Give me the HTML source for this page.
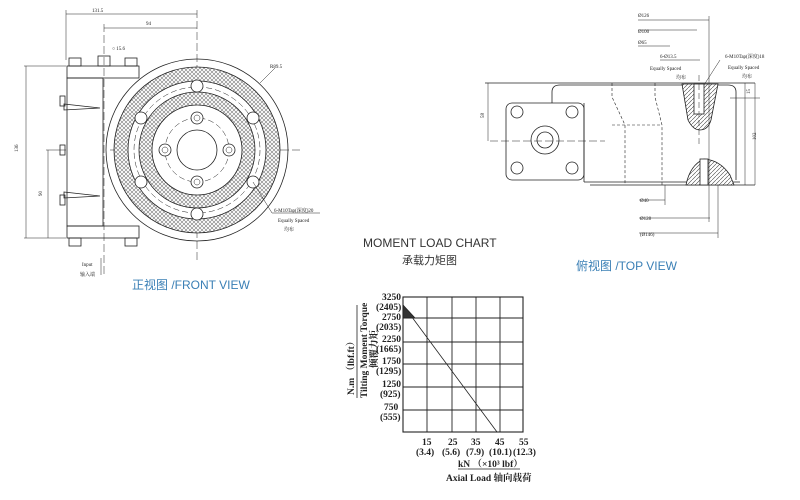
<!DOCTYPE html>
<html><head><meta charset="utf-8"><style>
html,body{margin:0;padding:0;background:#fff;width:800px;height:500px;overflow:hidden}
svg{display:block}
text{font-family:"Liberation Serif","Noto Serif CJK SC",serif;fill:#222}
.s{font-family:"Liberation Sans","Noto Sans CJK SC",sans-serif}
</style></head><body>
<svg width="800" height="500" viewBox="0 0 800 500" xmlns="http://www.w3.org/2000/svg">
<defs>
<pattern id="x" width="4" height="4" patternUnits="userSpaceOnUse">
<rect width="4" height="4" fill="#fff"/>
<path d="M0 0L4 4M4 0L0 4" stroke="#777" stroke-width="0.6"/>
</pattern>
<pattern id="d" width="4" height="4" patternUnits="userSpaceOnUse">
<rect width="4" height="4" fill="#fff"/><path d="M0 4L4 0" stroke="#444" stroke-width="0.6"/>
</pattern>
</defs>
<g stroke="#222" fill="none" stroke-width="0.8">
<!-- FRONT VIEW -->
<line x1="66" y1="14" x2="197" y2="14" stroke-width="0.5"/>
<line x1="104" y1="28" x2="197" y2="28" stroke-width="0.5"/>
<line x1="66" y1="10" x2="66" y2="60" stroke-width="0.5"/>
<line x1="197" y1="10" x2="197" y2="262" stroke-width="0.5" stroke-dasharray="8 3"/>
<line x1="104" y1="24" x2="104" y2="275" stroke-width="0.5" stroke-dasharray="8 3"/>
<line x1="110" y1="150" x2="300" y2="150" stroke-width="0.5" stroke-dasharray="10 3"/>
<line x1="24" y1="66" x2="66" y2="66" stroke-width="0.5"/>
<line x1="24" y1="238" x2="66" y2="238" stroke-width="0.5"/>
<line x1="26" y1="66" x2="26" y2="238" stroke-width="0.5"/>
<line x1="46" y1="150" x2="66" y2="150" stroke-width="0.5"/>
<line x1="48" y1="150" x2="48" y2="238" stroke-width="0.5"/>
<rect x="67" y="66" width="72" height="12"/>
<rect x="67" y="226" width="72" height="12"/>
<rect x="67" y="78" width="36" height="148"/>
<rect x="69" y="58" width="12" height="8"/>
<rect x="125" y="58" width="12" height="8"/>
<rect x="98" y="56" width="12" height="10"/>
<rect x="69" y="238" width="12" height="8"/>
<rect x="125" y="238" width="12" height="8"/>
<path d="M64 104 L100 108 L64 110Z"/>
<path d="M64 192 L100 196 L64 198Z"/>
<rect x="60" y="96" width="5" height="10"/><rect x="60" y="145" width="5" height="10"/><rect x="60" y="195" width="5" height="10"/>
<circle cx="197" cy="150" r="91"/>
<circle cx="197" cy="150" r="83" fill="url(#x)"/>
<circle cx="197" cy="150" r="69" fill="#fff"/>
<circle cx="197" cy="150" r="58" fill="url(#x)"/>
<circle cx="197" cy="150" r="45" fill="#fff"/>
<circle cx="197" cy="150" r="20"/>
<circle cx="197" cy="150" r="63" stroke-dasharray="6 3" stroke-width="0.5"/>
<circle cx="197" cy="150" r="32" stroke-dasharray="6 3" stroke-width="0.5"/>
<g fill="#fff">
<circle cx="197" cy="86" r="6"/><circle cx="197" cy="214" r="6"/>
<circle cx="141" cy="118" r="6"/><circle cx="253" cy="118" r="6"/>
<circle cx="141" cy="182" r="6"/><circle cx="253" cy="182" r="6"/>
<circle cx="197" cy="118" r="6"/><circle cx="197" cy="182" r="6"/>
<circle cx="165" cy="150" r="6"/><circle cx="229" cy="150" r="6"/>
</g>
<g stroke-width="0.5"><circle cx="197" cy="118" r="3"/><circle cx="197" cy="182" r="3"/><circle cx="165" cy="150" r="3"/><circle cx="229" cy="150" r="3"/></g>
<line x1="260" y1="83" x2="275" y2="68" stroke-width="0.5"/>
<line x1="253" y1="182" x2="272" y2="213" stroke-width="0.5"/>
<line x1="272" y1="213" x2="320" y2="213" stroke-width="0.5"/>
<line x1="101" y1="258" x2="101" y2="275" stroke-width="0.5"/>
<!-- TOP VIEW -->
<path d="M552 103 L552 92 Q552 85 560 85 L728 85 Q736 85 736 92 L736 180"/>
<line x1="485" y1="83" x2="755" y2="83"/>
<line x1="590" y1="185" x2="755" y2="185"/>
<rect x="506" y="103" width="78" height="77" rx="6"/>
<line x1="584" y1="103" x2="584" y2="182"/>
<line x1="584" y1="182" x2="740" y2="182"/>
<g fill="#fff"><circle cx="517" cy="112" r="6"/><circle cx="572" cy="112" r="6"/><circle cx="517" cy="168" r="6"/><circle cx="572" cy="168" r="6"/>
<circle cx="545" cy="140" r="14"/><circle cx="545" cy="140" r="8"/></g>
<line x1="490" y1="141" x2="605" y2="141" stroke-width="0.5" stroke-dasharray="8 3"/>
<path d="M612 83 L612 97 L625 125 L625 185 M655 83 L655 97 L662 125 L662 185" stroke-dasharray="3 2" stroke-width="0.6"/>
<line x1="612" y1="125" x2="662" y2="125" stroke-dasharray="3 2" stroke-width="0.6"/>
<path d="M682 84 L688 120 Q693 130 700 130 Q708 130 711 120 L718 84Z" fill="url(#d)"/>
<rect x="694" y="84" width="10" height="30" fill="#fff"/>
<path d="M686 185 Q690 165 704 159 Q720 160 730 175 L734 185Z" fill="url(#d)"/>
<rect x="700" y="159" width="8" height="26" fill="#fff"/>
<line x1="699" y1="75" x2="699" y2="145" stroke-width="0.5" stroke-dasharray="6 3"/>
<g stroke-width="0.5">
<line x1="638" y1="20" x2="709" y2="20"/><line x1="709" y1="16" x2="709" y2="222"/>
<line x1="638" y1="30" x2="697" y2="30"/>
<line x1="638" y1="46" x2="670" y2="46"/>
<line x1="660" y1="60" x2="700" y2="60"/>
<line x1="639" y1="200" x2="665" y2="200"/><line x1="665" y1="185" x2="665" y2="205"/>
<line x1="639" y1="218" x2="710" y2="218"/>
<line x1="639" y1="233" x2="718" y2="233"/><line x1="718" y1="185" x2="718" y2="238"/>
<line x1="745" y1="83" x2="745" y2="185"/>
<line x1="755" y1="83" x2="755" y2="185"/>
<line x1="488" y1="83" x2="488" y2="141"/>
<line x1="730" y1="98" x2="760" y2="98"/>
<line x1="720" y1="60" x2="704" y2="85"/>
</g>
<!-- CHART -->
<rect x="403" y="297" width="120" height="135" stroke-width="1.1"/>
<g stroke-width="0.9">
<line x1="427" y1="297" x2="427" y2="432"/><line x1="452" y1="297" x2="452" y2="432"/>
<line x1="476" y1="297" x2="476" y2="432"/><line x1="500" y1="297" x2="500" y2="432"/>
<line x1="403" y1="318" x2="523" y2="318"/><line x1="403" y1="342" x2="523" y2="342"/>
<line x1="403" y1="364" x2="523" y2="364"/><line x1="403" y1="387" x2="523" y2="387"/>
<line x1="403" y1="410" x2="523" y2="410"/>
</g>
<line x1="403" y1="305" x2="497" y2="432" stroke-width="0.8"/>
<path d="M403 305 L415 318 L403 318Z" fill="#333"/>
<line x1="357" y1="305" x2="357" y2="398" stroke-width="0.8"/>
<line x1="458" y1="469" x2="520" y2="469" stroke-width="0.8"/>
</g>
<g font-size="5">
<text x="92" y="12">131.5</text><text x="146" y="25">94</text><text x="112" y="50">○ 15.6</text>
<text x="270" y="68">R89.5</text>
<text x="274" y="212">6-M10Tap(深度)20</text><text x="278" y="222">Equally Spaced</text><text x="284" y="231">均布</text>
<text x="82" y="266">Input</text><text x="80" y="276">输入端</text>
<text x="18" y="152" transform="rotate(-90 18 152)">136</text>
<text x="42" y="196" transform="rotate(-90 42 196)">90</text>
<text x="638" y="17">Ø126</text><text x="638" y="33">Ø100</text><text x="638" y="44">Ø65</text>
<text x="660" y="58">6-Ø13.5</text><text x="650" y="70">Equally Spaced</text><text x="676" y="79">均布</text>
<text x="725" y="58">6-M10Tap(深度)18</text><text x="728" y="69">Equally Spaced</text><text x="742" y="78">均布</text>
<text x="640" y="202">Ø40</text><text x="640" y="220">Ø128</text><text x="640" y="236">(Ø146)</text>
<text x="756" y="140" transform="rotate(-90 756 140)">102</text>
<text x="484" y="118" transform="rotate(-90 484 118)">58</text>
<text x="750" y="94" transform="rotate(-90 750 94)">15</text>
</g>
<text class="s" x="132" y="289" font-size="12" style="fill:#3a7fb5">正视图 /FRONT VIEW</text>
<text class="s" x="576" y="270" font-size="12" style="fill:#3a7fb5">俯视图 /TOP VIEW</text>
<text class="s" x="363" y="247" font-size="12" style="fill:#333">MOMENT LOAD CHART</text>
<text class="s" x="402" y="264" font-size="11" style="fill:#333">承载力矩图</text>
<g font-size="9.5" style="font-weight:bold">
<text x="382" y="300">3250</text><text x="376" y="310">(2405)</text>
<text x="382" y="320">2750</text><text x="376" y="330">(2035)</text>
<text x="382" y="342">2250</text><text x="376" y="352">(1665)</text>
<text x="382" y="364">1750</text><text x="376" y="374">(1295)</text>
<text x="382" y="387">1250</text><text x="380" y="397">(925)</text>
<text x="384" y="410">750</text><text x="380" y="420">(555)</text>
<text x="422" y="445">15</text><text x="448" y="445">25</text><text x="471" y="445">35</text><text x="495" y="445">45</text><text x="519" y="445">55</text>
<text x="416" y="455">(3.4)</text><text x="442" y="455">(5.6)</text><text x="466" y="455">(7.9)</text><text x="489" y="455">(10.1)</text><text x="513" y="455">(12.3)</text>
<text x="458" y="467">kN （×10³ lbf）</text>
<text x="446" y="481">Axial Load 轴向载荷</text>
<text x="354" y="395" transform="rotate(-90 354 395)">N.m （lbf.ft）</text>
<text x="367" y="398" transform="rotate(-90 367 398)">Tilting Moment Torque</text>
<text x="377" y="368" transform="rotate(-90 377 368)">倾覆力矩</text>
</g>
</svg>
</body></html>
